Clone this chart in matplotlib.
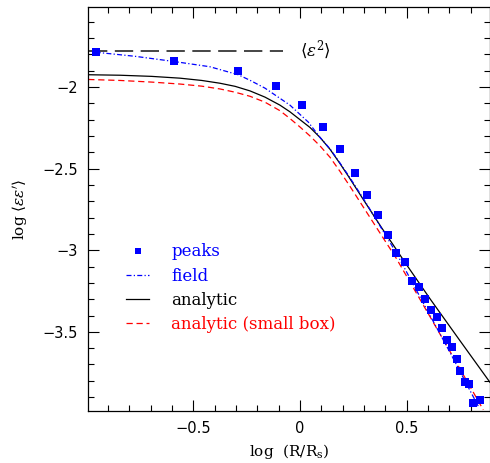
import numpy as np
import matplotlib
matplotlib.use("Agg")
import matplotlib.pyplot as plt
from matplotlib.ticker import MultipleLocator, FuncFormatter
from matplotlib.legend_handler import HandlerLine2D

# datos
peaks_x = [-0.957, -0.590, -0.289, -0.111, 0.011, 0.109, 0.189, 0.259, 0.315, 0.367,
           0.411, 0.451, 0.493, 0.526, 0.559, 0.587, 0.615, 0.643, 0.667, 0.690,
           0.713, 0.737, 0.751, 0.774, 0.793, 0.812, 0.845]
peaks_y = [-1.787, -1.841, -1.902, -1.994, -2.110, -2.244, -2.378, -2.524, -2.659, -2.787,
           -2.909, -3.018, -3.073, -3.189, -3.226, -3.299, -3.366, -3.409, -3.476, -3.549,
           -3.591, -3.665, -3.738, -3.805, -3.817, -3.939, -3.915]

field_x = [-0.957, -0.773, -0.589, -0.422, -0.289, -0.234, -0.164, -0.047, 0.039, 0.094,
           0.141, 0.187, 0.225, 0.300, 0.343, 0.398, 0.450, 0.562, 0.703, 0.835]
field_y = [-1.787, -1.812, -1.844, -1.876, -1.925, -1.959, -2.007, -2.111, -2.215, -2.309,
           -2.379, -2.465, -2.538, -2.690, -2.782, -2.901, -3.013, -3.285, -3.626, -3.955]

analytic_x = [-0.992, -0.843, -0.695, -0.562, -0.460, -0.375, -0.304, -0.234, -0.164, -0.094,
              -0.047, 0.047, 0.094, 0.141, 0.187, 0.225, 0.300, 0.382, 0.500, 0.609,
              0.749, 0.890]
analytic_y = [-1.925, -1.928, -1.935, -1.946, -1.960, -1.977, -1.996, -2.024, -2.062, -2.111,
              -2.152, -2.248, -2.309, -2.382, -2.468, -2.543, -2.696, -2.861, -3.090, -3.297,
              -3.553, -3.809]

smallbox_x = [-0.992, -0.843, -0.695, -0.562, -0.460, -0.375, -0.304, -0.234, -0.164, -0.094,
              -0.047, 0.0, 0.047, 0.094, 0.141, 0.187, 0.234, 0.351, 0.450, 0.562,
              0.703, 0.859]
smallbox_y = [-1.954, -1.960, -1.970, -1.982, -1.995, -2.012, -2.032, -2.057, -2.093, -2.145,
              -2.193, -2.245, -2.300, -2.361, -2.431, -2.516, -2.608, -2.846, -3.047, -3.300,
              -3.620, -3.978]

eps2_x = [-0.99, -0.08]
eps2_y = [-1.777, -1.777]

plt.rcParams['mathtext.fontset'] = 'dejavuserif'


class MarcadorDerecha(HandlerLine2D):
    def get_xdata(self, legend, xdescent, ydescent, width, height, fontsize):
        xdata, _ = super().get_xdata(legend, xdescent, ydescent, width, height, fontsize)
        return xdata, np.array([-xdescent + width - 1.0])


fig = plt.figure(figsize=(4.9, 4.63), dpi=100)
ax = fig.add_axes([88 / 490, 52 / 463, 401.5 / 490, 404 / 463])

ax.plot(eps2_x, eps2_y, color='0.15', lw=1.2, dashes=(11, 4.5))
ax.text(0.0, -1.777, r'$\langle\epsilon^2\rangle$', fontsize=12, va='center', ha='left')

l_analytic, = ax.plot(analytic_x, analytic_y, color='black', lw=0.9, label='analytic')
l_small, = ax.plot(smallbox_x, smallbox_y, color='red', lw=0.9, dashes=(5, 3),
                   label='analytic (small box)')
l_field, = ax.plot(field_x, field_y, color='blue', lw=0.9, dashes=(4, 1.8, 1, 1.8),
                   label='field')
l_peaks, = ax.plot(peaks_x, peaks_y, 's', color='blue', ms=5.3, mew=0, zorder=5,
                   label='peaks')

ax.set_xlim(-0.993, 0.888)
ax.set_ylim(-3.985, -1.51)

ax.xaxis.set_major_locator(MultipleLocator(0.5))
ax.xaxis.set_minor_locator(MultipleLocator(0.1))
ax.yaxis.set_major_locator(MultipleLocator(0.5))
ax.yaxis.set_minor_locator(MultipleLocator(0.1))
fmt = FuncFormatter(lambda v, p: ('%g' % round(v, 2)).replace('-', '\u2212'))
ax.xaxis.set_major_formatter(fmt)
ax.yaxis.set_major_formatter(fmt)
ax.tick_params(which='both', direction='in', top=True, right=True, width=0.8)
ax.tick_params(which='major', length=8, pad=7.5, labelsize=10.5)
ax.tick_params(which='minor', length=4)
for s in ax.spines.values():
    s.set_linewidth(0.9)

ax.set_xlabel(r'log  (R/R$_\mathrm{s}$)', family='DejaVu Serif', fontsize=11, labelpad=4)
ax.set_ylabel(r'log $\langle\epsilon\epsilon^{\prime}\rangle$', family='DejaVu Serif',
              fontsize=11, labelpad=9)

leg = ax.legend([l_peaks, l_field, l_analytic, l_small],
                ['peaks', 'field', 'analytic', 'analytic (small box)'],
                handler_map={l_peaks: MarcadorDerecha()},
                loc='upper left', bbox_to_anchor=(0.095, 0.415), frameon=False,
                prop={'family': 'DejaVu Serif', 'size': 12}, handlelength=1.4,
                handletextpad=1.3, labelspacing=0.43, borderpad=0, borderaxespad=0,
                markerscale=0.8)
for t, c in zip(leg.get_texts(), ['blue', 'blue', 'black', 'red']):
    t.set_color(c)

fig.savefig('out.png', dpi=100)
